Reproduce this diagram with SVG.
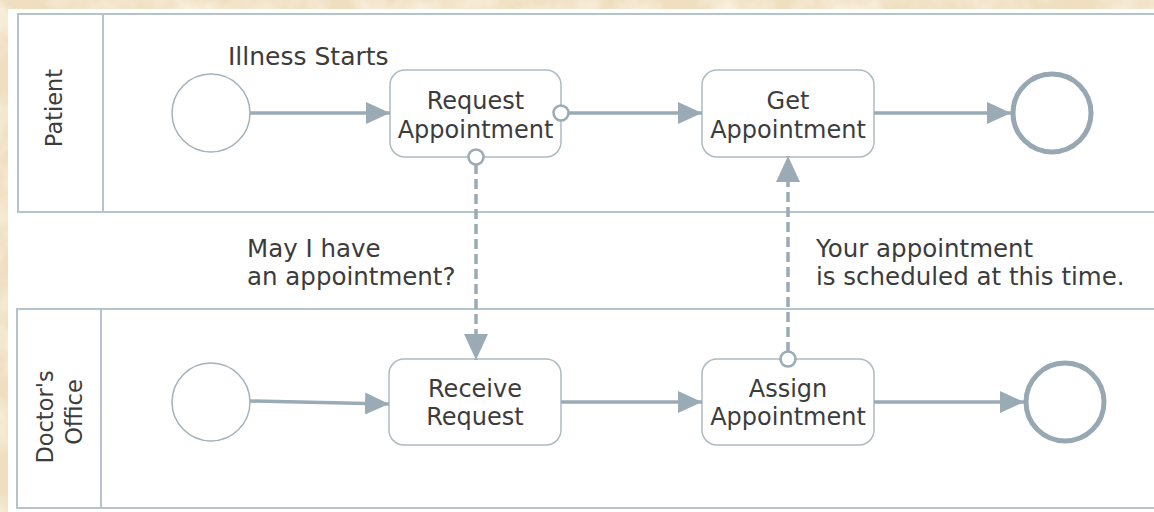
<svg xmlns="http://www.w3.org/2000/svg" width="1154" height="512" viewBox="0 0 1154 512">
  <defs>
    <filter id="paper" x="0" y="0" width="100%" height="100%">
      <feTurbulence type="fractalNoise" baseFrequency="0.02" numOctaves="4" seed="7" result="n"/>
      <feColorMatrix in="n" type="matrix" values="0 0 0 0 0.99  0 0 0 0 0.95  0 0 0 0 0.86  0 0 0 -1.6 1.0" result="c"/>
      <feComposite in="c" in2="SourceGraphic" operator="in"/>
    </filter>
    <marker id="arr" viewBox="0 0 24 22" refX="24" refY="11" markerWidth="24" markerHeight="22" markerUnits="userSpaceOnUse" orient="auto">
      <path d="M0,0 L24,11 L0,22 z" fill="#9aabb5"/>
    </marker>
    <marker id="marr" viewBox="0 0 26 24" refX="26" refY="12" markerWidth="26" markerHeight="24" markerUnits="userSpaceOnUse" orient="auto">
      <path d="M0,0 L26,12 L0,24 z" fill="#9aabb5"/>
    </marker>
  </defs>
  <style>
    .pool { fill: #ffffff; stroke: #b7c3cb; stroke-width: 2; }
    .task { fill: #ffffff; stroke: #aebbc3; stroke-width: 1.5; }
    .start { fill: #ffffff; stroke: #a3b2bb; stroke-width: 1.5; }
    .end { fill: #ffffff; stroke: #97a8b2; stroke-width: 5; }
    .seq { fill: none; stroke: #9aabb5; stroke-width: 3.5; marker-end: url(#arr); }
    .msg { fill: none; stroke: #9aabb5; stroke-width: 3.5; stroke-dasharray: 10 5; marker-end: url(#marr); }
    .src { fill: #ffffff; stroke: #9aabb5; stroke-width: 2.5; }
    text { font-family: "DejaVu Sans", Verdana, sans-serif; fill: #3c3c3c; }
    .t { font-size: 24px; text-anchor: middle; }
    .lbl { font-size: 24.5px; }
    .ev { font-size: 25px; }
    .pl { font-size: 22.5px; text-anchor: middle; }
  </style>

  <rect x="0" y="0" width="1154" height="512" fill="#efdebf"/>
  <rect x="0" y="0" width="1154" height="512" fill="#efdebf" filter="url(#paper)"/>
  <rect x="8" y="9" width="1146" height="503" fill="#ffffff"/>

  <g id="pool-patient">
    <rect class="pool" x="18" y="14" width="1150" height="198"/>
    <line x1="103" y1="14" x2="103" y2="212" stroke="#b7c3cb" stroke-width="2"/>
    <text class="pl" transform="translate(62,108) rotate(-90)">Patient</text>
  </g>
  <g id="pool-doctor">
    <rect class="pool" x="17" y="309" width="1150" height="199"/>
    <line x1="101" y1="309" x2="101" y2="508" stroke="#b7c3cb" stroke-width="2"/>
    <text class="pl" transform="translate(53,417) rotate(-90)">Doctor's</text>
    <text class="pl" transform="translate(82,412) rotate(-90)">Office</text>
  </g>

  <g id="start-patient">
    <circle class="start" cx="211" cy="113" r="39"/>
    <text class="ev" x="228" y="65">Illness Starts</text>
  </g>
  <g id="task-request">
    <rect class="task" x="390" y="70" width="171" height="87" rx="15"/>
    <text class="t" x="475.5" y="109">Request</text>
    <text class="t" x="475.5" y="138">Appointment</text>
  </g>
  <g id="task-get">
    <rect class="task" x="702" y="70" width="172" height="87" rx="15"/>
    <text class="t" x="788" y="109">Get</text>
    <text class="t" x="788" y="138">Appointment</text>
  </g>
  <g id="end-patient">
    <circle class="end" cx="1052" cy="113" r="39"/>
  </g>

  <g id="start-doctor">
    <circle class="start" cx="211" cy="402" r="39"/>
  </g>
  <g id="task-receive">
    <rect class="task" x="389" y="359" width="172" height="86" rx="15"/>
    <text class="t" x="475" y="397">Receive</text>
    <text class="t" x="475" y="425">Request</text>
  </g>
  <g id="task-assign">
    <rect class="task" x="702" y="359" width="172" height="86" rx="15"/>
    <text class="t" x="788" y="397">Assign</text>
    <text class="t" x="788" y="425">Appointment</text>
  </g>
  <g id="end-doctor">
    <circle class="end" cx="1065" cy="402" r="39"/>
  </g>

  <g id="connectors">
    <line class="seq" x1="250" y1="113" x2="390" y2="113"/>
    <line class="seq" x1="568" y1="113" x2="702" y2="113"/>
    <line class="seq" x1="874" y1="113" x2="1011" y2="113"/>
    <line class="seq" x1="250" y1="401" x2="389" y2="404"/>
    <line class="seq" x1="561" y1="402" x2="702" y2="402"/>
    <line class="seq" x1="874" y1="402" x2="1024" y2="402"/>
    <line class="msg" x1="476" y1="164" x2="476" y2="360"/>
    <line class="msg" x1="788" y1="352" x2="788" y2="156"/>
    <circle class="src" cx="561" cy="113" r="7.5"/>
    <circle class="src" cx="476" cy="157" r="7.5"/>
    <circle class="src" cx="788" cy="359" r="7.5"/>
    <text class="lbl" x="247" y="257">May I have</text>
    <text class="lbl" x="247" y="285">an appointment?</text>
    <text class="lbl" x="816" y="257">Your appointment</text>
    <text class="lbl" x="816" y="285">is scheduled at this time.</text>
  </g>
</svg>
